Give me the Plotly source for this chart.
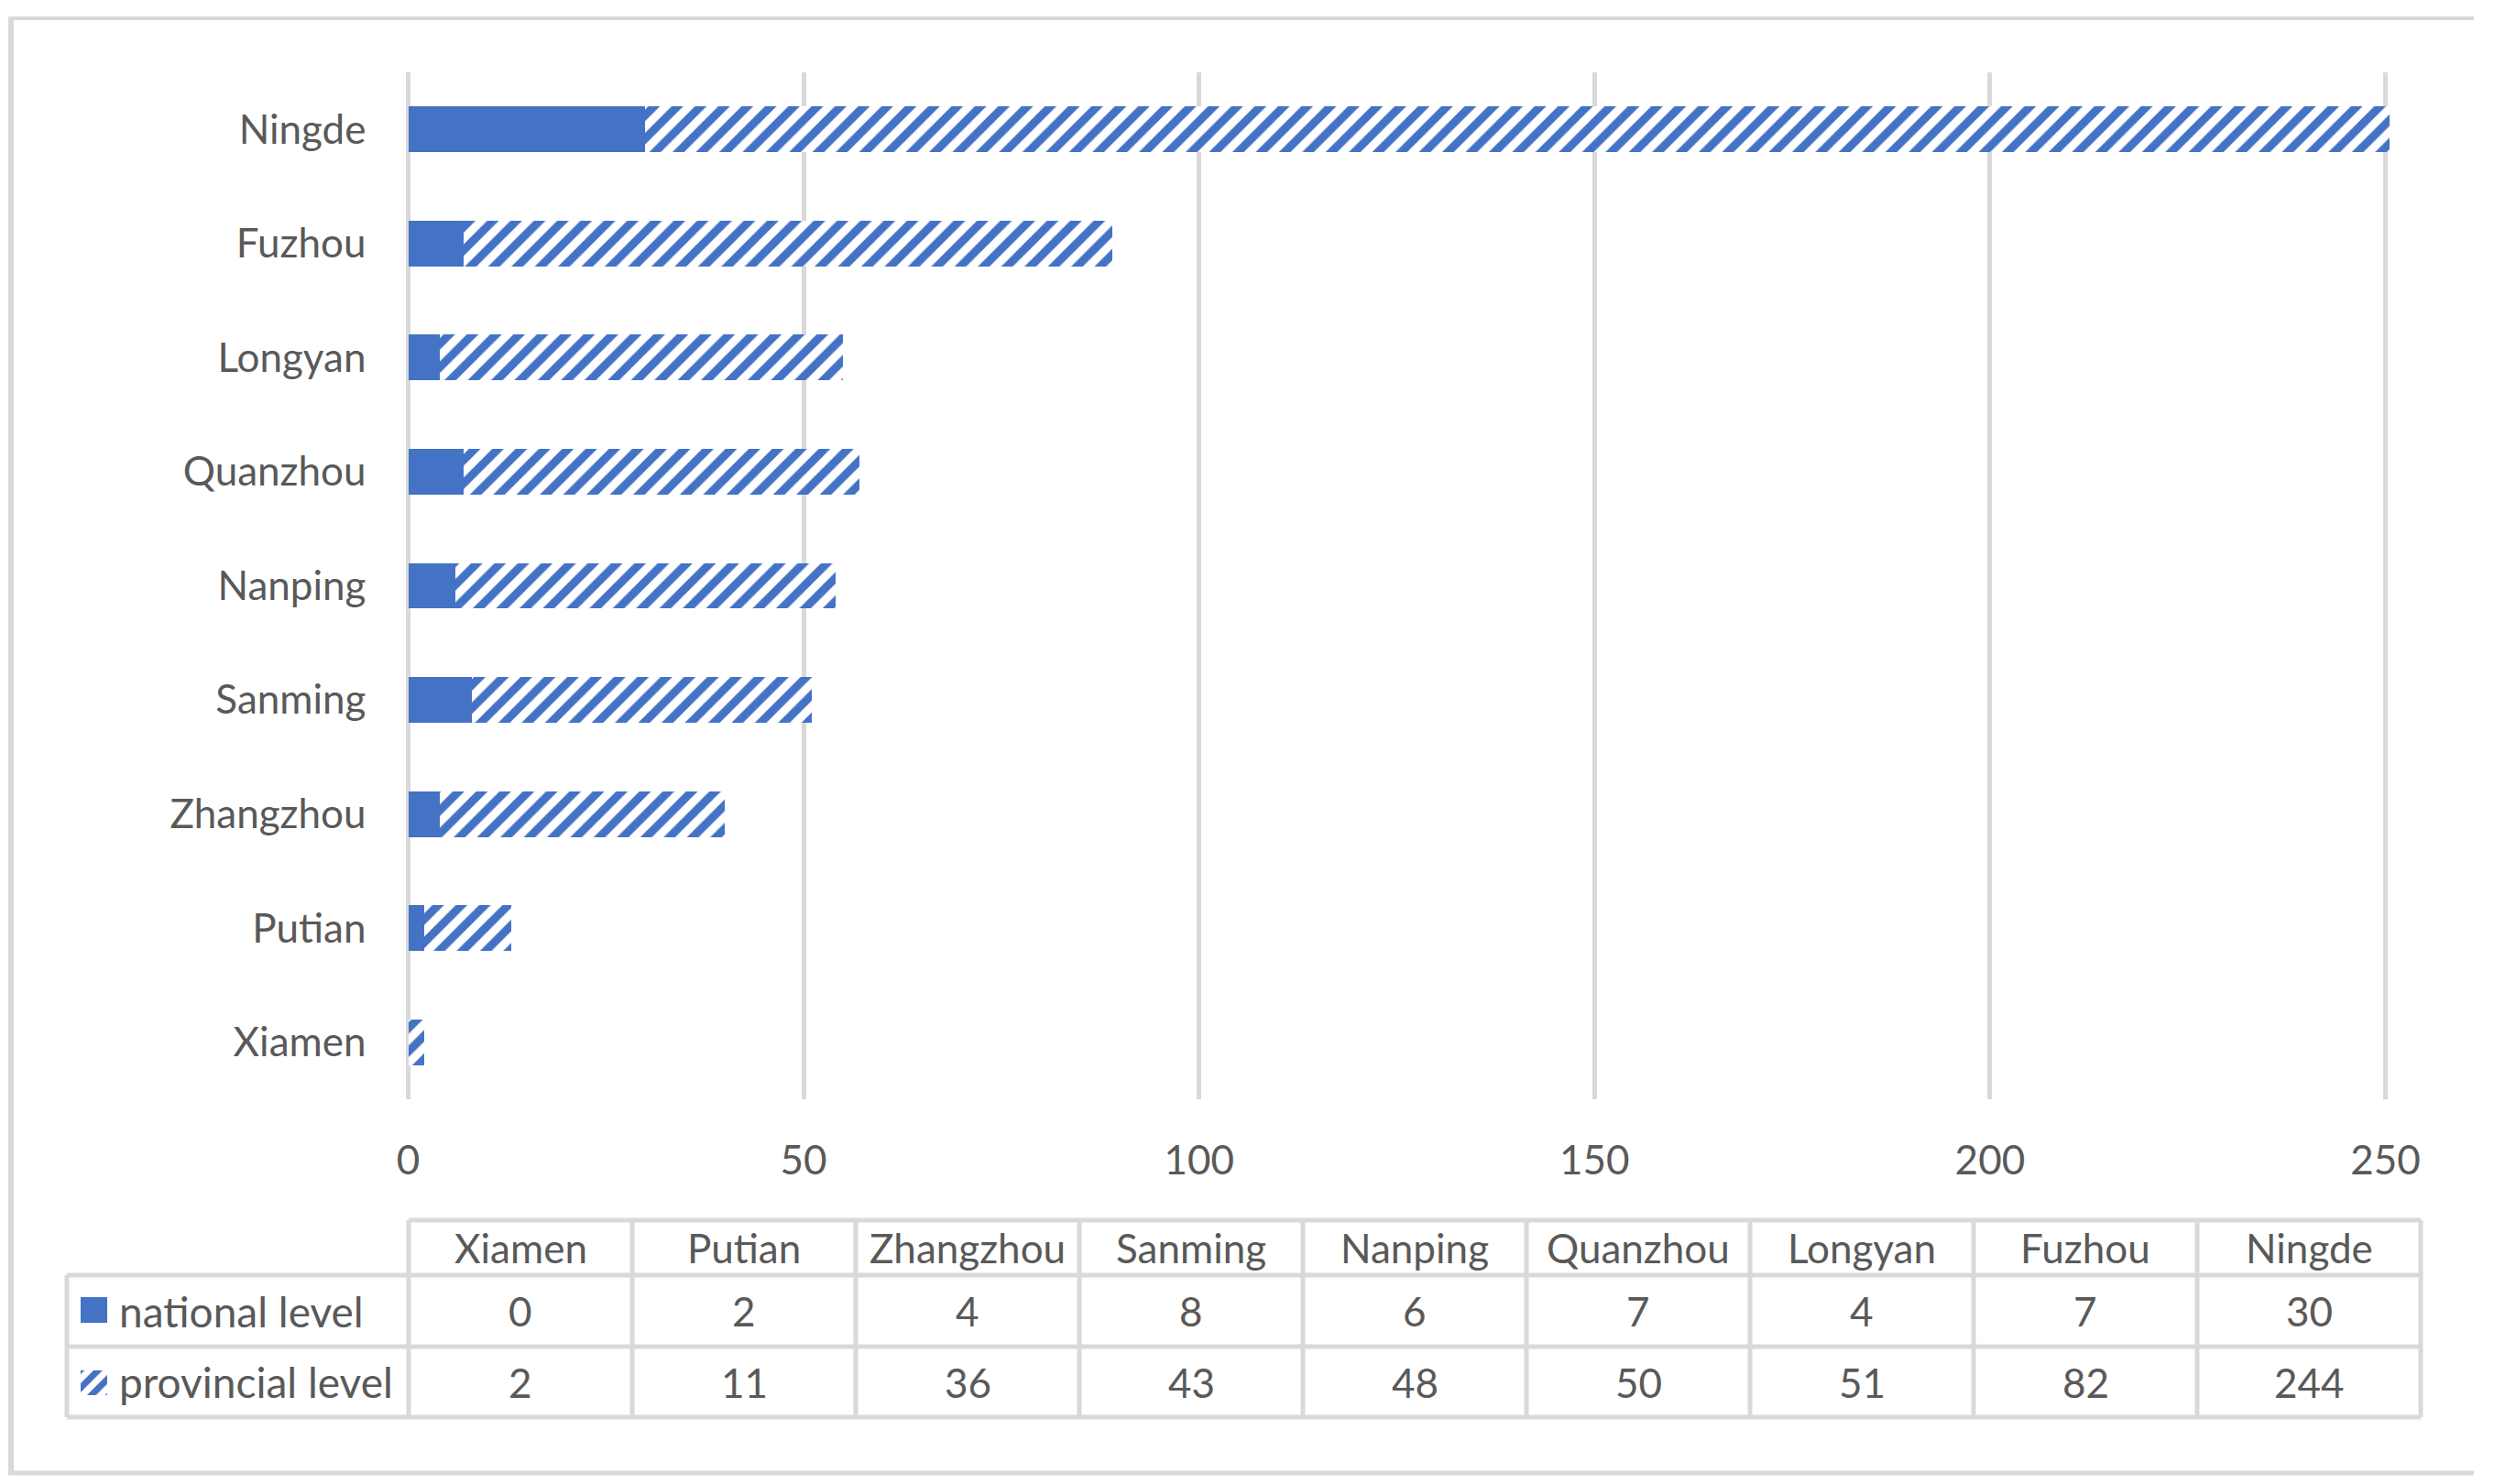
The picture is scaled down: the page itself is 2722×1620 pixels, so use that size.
import plotly.graph_objects as go

# ---- data ----
cities = ["Xiamen", "Putian", "Zhangzhou", "Sanming", "Nanping",
          "Quanzhou", "Longyan", "Fuzhou", "Ningde"]
national = [0, 2, 4, 8, 6, 7, 4, 7, 30]
provincial = [2, 11, 36, 43, 48, 50, 51, 82, 244]
series_names = ["national level", "provincial level"]
x_ticks = [0, 50, 100, 150, 200, 250]

# ---- layout constants (pixels) ----
W, H = 2722, 1620
BLUE = "#4472C4"
GRID = "#D9D9D9"
TXT = "#595959"
FONT = "Lato"
FS = 44


def px(x):
    return x / W


def py(y):
    return 1 - y / H


plot_left, plot_right = 445.5, 2608
plot_top, plot_bottom = 79, 1200
x_max = (plot_right - plot_left) / ((2603.5 - 445.5) / 250)

pattern = dict(shape="/", fgcolor=BLUE, bgcolor="white", fillmode="replace",
               size=18, solidity=0.5)

fig = go.Figure()
fig.add_trace(go.Bar(y=cities, x=national, orientation="h", name=series_names[0],
                     marker=dict(color=BLUE, line=dict(width=0)), showlegend=False))
fig.add_trace(go.Bar(y=cities, x=provincial, orientation="h", name=series_names[1],
                     marker=dict(color="white", line=dict(width=0), pattern=pattern),
                     showlegend=False))

# legend keys inside the data table (hidden axes pair)
key_top, key_bot = 1416, 1523
fig.add_trace(go.Bar(x=[1], y=[1430], width=[28], orientation="h", xaxis="x2", yaxis="y2",
                     marker=dict(color=BLUE, line=dict(width=0)), showlegend=False,
                     hoverinfo="skip"))
fig.add_trace(go.Bar(x=[1], y=[1509.5], width=[27], orientation="h", xaxis="x2", yaxis="y2",
                     marker=dict(color="white", line=dict(width=0),
                                 pattern=dict(shape="/", fgcolor=BLUE, bgcolor="white",
                                              fillmode="replace", size=14, solidity=0.5)),
                     showlegend=False, hoverinfo="skip"))

shapes = []
lw = 5
# outer frame (left, top, bottom)
shapes.append(dict(type="line", xref="paper", yref="paper", x0=px(12), x1=px(12),
                   y0=py(20), y1=py(1609), line=dict(color=GRID, width=6)))
shapes.append(dict(type="line", xref="paper", yref="paper", x0=px(9), x1=px(2700),
                   y0=py(20), y1=py(20), line=dict(color=GRID, width=4)))
shapes.append(dict(type="line", xref="paper", yref="paper", x0=px(9), x1=px(2700),
                   y0=py(1608), y1=py(1608), line=dict(color=GRID, width=5)))

# data table grid
col_left, col_w = 446, 244
tbl_right = col_left + col_w * len(cities)
row_y = [1332, 1392, 1470, 1547]
lab_left = 73
for i, y in enumerate(row_y):
    x0 = col_left if i == 0 else lab_left
    shapes.append(dict(type="line", xref="paper", yref="paper", x0=px(x0), x1=px(tbl_right),
                       y0=py(y), y1=py(y), line=dict(color=GRID, width=lw)))
shapes.append(dict(type="line", xref="paper", yref="paper", x0=px(lab_left), x1=px(lab_left),
                   y0=py(row_y[1]), y1=py(row_y[3]), line=dict(color=GRID, width=lw)))
for j in range(len(cities) + 1):
    x = col_left + col_w * j
    shapes.append(dict(type="line", xref="paper", yref="paper", x0=px(x), x1=px(x),
                       y0=py(row_y[0]), y1=py(row_y[3]), line=dict(color=GRID, width=lw)))

annotations = []
centers_y = [(row_y[k] + row_y[k + 1]) / 2 for k in range(3)]
for j, c in enumerate(cities):
    xc = col_left + col_w * (j + 0.5)
    for k, txt in enumerate([c, str(national[j]), str(provincial[j])]):
        annotations.append(dict(x=px(xc), y=py(centers_y[k]), xref="paper", yref="paper",
                                text=txt, showarrow=False, xanchor="center", yanchor="middle",
                                font=dict(family=FONT, size=FS, color=TXT)))
for k, name in enumerate(series_names):
    annotations.append(dict(x=px(128), y=py(centers_y[k + 1]), xref="paper", yref="paper",
                            text=name, showarrow=False, xanchor="left", yanchor="middle",
                            font=dict(family=FONT, size=FS + 2, color=TXT)))

fig.update_layout(
    width=W, height=H, autosize=False,
    margin=dict(l=0, r=0, t=0, b=0, autoexpand=False),
    paper_bgcolor="white", plot_bgcolor="white",
    barmode="stack", bargap=0.6,
    font=dict(family=FONT, size=FS, color=TXT),
    xaxis=dict(domain=[px(plot_left), px(plot_right)], range=[0, x_max],
               tickvals=x_ticks, showgrid=True, gridcolor=GRID, gridwidth=5,
               zeroline=True, zerolinecolor=GRID, zerolinewidth=5, automargin=False,
               showline=False, ticks="", ticklabelstandoff=37,
               tickfont=dict(family=FONT, size=FS, color=TXT), fixedrange=True),
    yaxis=dict(domain=[py(plot_bottom), py(plot_top)], type="category",
               categoryorder="array", categoryarray=cities, automargin=False,
               showgrid=False, showline=False, ticks="", ticklabelstandoff=45,
               tickfont=dict(family=FONT, size=FS, color=TXT), fixedrange=True),
    xaxis2=dict(domain=[px(88), px(117)], range=[0, 1], anchor="y2", visible=False,
                automargin=False, fixedrange=True),
    yaxis2=dict(domain=[py(key_bot), py(key_top)], range=[key_bot, key_top], anchor="x2",
                visible=False, automargin=False, fixedrange=True),
    shapes=shapes, annotations=annotations,
)

fig.write_html(
    "out.html",
    config={"displayModeBar": False},
    post_script="document.body.style.margin='0';document.body.style.overflow='hidden';",
)
